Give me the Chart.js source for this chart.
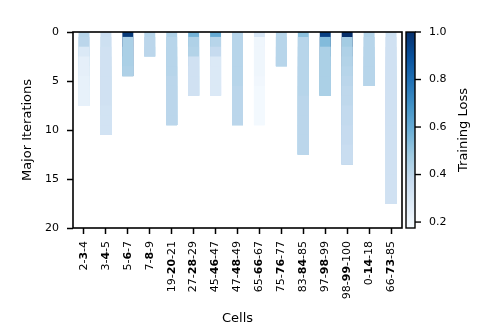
<!DOCTYPE html>
<html>
<head>
<title>Training loss per major iteration</title>
<script src="https://cdn.jsdelivr.net/npm/chart.js"></script>
<style>
  html, body { margin: 0; padding: 0; background: #fff; }
  #wrap { width: 488px; height: 326px; }
</style>
</head>
<body>
<div id="wrap"><canvas id="myChart"></canvas></div>
<script>
// cells on the x axis (middle number is drawn bold)
const cells = ['2-3-4', '3-4-5', '5-6-7', '7-8-9', '19-20-21', '27-28-29', '45-46-47', '47-48-49',
               '65-66-67', '75-76-77', '83-84-85', '97-98-99', '98-99-100', '0-14-18', '66-73-85'];

// training loss for each major iteration (0, 1, 2, ...) of every cell
const loss_2_3_4    = [0.42, 0.41, 0.29, 0.25, 0.25, 0.24, 0.24, 0.24];
const loss_3_4_5    = [0.36, 0.35, 0.34, 0.34, 0.34, 0.34, 0.34, 0.34, 0.33, 0.33, 0.33];
const loss_5_6_7    = [0.97, 0.45, 0.45, 0.45, 0.44];
const loss_7_8_9    = [0.42, 0.41, 0.41];
const loss_19_20_21 = [0.44, 0.42, 0.42, 0.42, 0.42, 0.41, 0.41, 0.41, 0.41, 0.41];
const loss_27_28_29 = [0.57, 0.44, 0.43, 0.34, 0.34, 0.34, 0.34];
const loss_45_46_47 = [0.60, 0.42, 0.38, 0.29, 0.29, 0.29, 0.29];
const loss_47_48_49 = [0.42, 0.42, 0.42, 0.42, 0.42, 0.42, 0.41, 0.41, 0.41, 0.41];
const loss_65_66_67 = [0.31, 0.21, 0.21, 0.21, 0.21, 0.20, 0.19, 0.19, 0.19, 0.19];
const loss_75_76_77 = [0.42, 0.42, 0.42, 0.42];
const loss_83_84_85 = [0.52, 0.42, 0.42, 0.42, 0.42, 0.42, 0.42, 0.41, 0.41, 0.41, 0.41, 0.41, 0.41];
const loss_97_98_99 = [0.95, 0.54, 0.45, 0.45, 0.45, 0.45, 0.45];
const loss_98_99_100 = [1.00, 0.47, 0.44, 0.43, 0.42, 0.41, 0.40, 0.40, 0.39, 0.39, 0.38, 0.38, 0.37, 0.37];
const loss_0_14_18  = [0.43, 0.42, 0.42, 0.42, 0.42, 0.42];
const loss_66_73_85 = [0.35, 0.34, 0.34, 0.34, 0.34, 0.34, 0.34, 0.34, 0.34, 0.34, 0.34, 0.34, 0.34, 0.34, 0.34, 0.34, 0.34, 0.34];

const losses = [loss_2_3_4, loss_3_4_5, loss_5_6_7, loss_7_8_9, loss_19_20_21, loss_27_28_29, loss_45_46_47,
                loss_47_48_49, loss_65_66_67, loss_75_76_77, loss_83_84_85, loss_97_98_99, loss_98_99_100,
                loss_0_14_18, loss_66_73_85];

// axis ticks
const iterTicks = [0, 5, 10, 15, 20];
const lossTicks = [0.2, 0.4, 0.6, 0.8, 1.0];
const lossMin = 0.175;
const lossMax = 1.0;

// matplotlib "Blues"
const bluesStops = ['#f7fbff', '#deebf7', '#c6dbef', '#9ecae1', '#6baed6', '#4292c6', '#2171b5', '#08519c', '#08306b'];
function hexRgb(h) {
    return [parseInt(h.substr(1, 2), 16), parseInt(h.substr(3, 2), 16), parseInt(h.substr(5, 2), 16)];
}
function blues(v) {
    let t = (v - lossMin) / (lossMax - lossMin);
    t = Math.max(0, Math.min(1, t));
    const p = t * 8;
    const i = Math.min(7, Math.floor(p));
    const f = p - i;
    const a = hexRgb(bluesStops[i]), b = hexRgb(bluesStops[i + 1]);
    const c = a.map((x, j) => Math.round(x + (b[j] - x) * f));
    return 'rgb(' + c.join(',') + ')';
}

// one dataset per iteration k; each bar runs from k-0.5 to the end of the cell's run,
// later iterations are drawn on top, so only [k-0.5, k+0.5] of each stays visible (no seams)
const maxLen = Math.max(...losses.map(a => a.length));
const datasets = [];
for (let k = 0; k < maxLen; k++) {
    datasets.push({
        label: 'iteration ' + k,
        data: losses.map(a => k < a.length ? [k - 0.5, a.length - 0.5] : null),
        backgroundColor: losses.map(a => k < a.length ? blues(a[k]) : 'rgba(0,0,0,0)'),
        borderWidth: 0,
        inflateAmount: 0,
        grouped: false,
        barPercentage: 0.5,
        categoryPercentage: 1.0,
        order: maxLen - k
    });
}

const FONT = '"DejaVu Sans", sans-serif';
const TICK_PX = 11;

// frame, bold-middle cell labels and the colour bar
const extras = {
    id: 'extras',
    afterDraw(chart) {
        const ctx = chart.ctx;
        const area = chart.chartArea;
        const xs = chart.scales.x;
        ctx.save();

        // frame round the plot
        ctx.strokeStyle = '#000';
        ctx.lineWidth = 1.6;
        ctx.strokeRect(area.left, area.top, area.right - area.left, area.bottom - area.top);

        // x tick labels
        ctx.fillStyle = '#000';
        ctx.textBaseline = 'middle';
        ctx.textAlign = 'left';
        const top = area.bottom + 6 + 7;
        cells.forEach((label, i) => {
            const p = label.split('-');
            const segs = [[p[0] + '-', false], [p[1], true], ['-' + p[2], false]];
            let total = 0;
            const w = segs.map(s => {
                ctx.font = (s[1] ? 'bold ' : '') + TICK_PX + 'px ' + FONT;
                const m = ctx.measureText(s[0]).width;
                total += m;
                return m;
            });
            const x = xs.getPixelForValue(i);
            ctx.save();
            ctx.translate(x, top);
            ctx.rotate(-Math.PI / 2);
            let pos = -total;
            segs.forEach((s, j) => {
                ctx.font = (s[1] ? 'bold ' : '') + TICK_PX + 'px ' + FONT;
                ctx.fillText(s[0], pos, 0);
                pos += w[j];
            });
            ctx.restore();
        });

        // colour bar
        const cbL = area.right + 4, cbR = cbL + 9;
        const cbT = area.top, cbB = area.bottom;
        const grad = ctx.createLinearGradient(0, cbB, 0, cbT);
        for (let s = 0; s <= 40; s++) {
            const v = lossMin + (lossMax - lossMin) * s / 40;
            grad.addColorStop(s / 40, blues(v));
        }
        ctx.fillStyle = grad;
        ctx.fillRect(cbL, cbT, cbR - cbL, cbB - cbT);
        ctx.lineWidth = 1.4;
        ctx.strokeStyle = '#000';
        ctx.strokeRect(cbL, cbT, cbR - cbL, cbB - cbT);

        ctx.font = TICK_PX + 'px ' + FONT;
        ctx.fillStyle = '#000';
        ctx.textAlign = 'left';
        ctx.textBaseline = 'middle';
        lossTicks.forEach(v => {
            const y = cbB - (v - lossMin) / (lossMax - lossMin) * (cbB - cbT);
            ctx.beginPath();
            ctx.moveTo(cbR, y);
            ctx.lineTo(cbR + 6, y);
            ctx.stroke();
            ctx.fillText(v.toFixed(1), cbR + 14, y);
        });

        ctx.save();
        ctx.translate(464, (cbT + cbB) / 2);
        ctx.rotate(-Math.PI / 2);
        ctx.textAlign = 'center';
        ctx.font = '13px ' + FONT;
        ctx.fillText('Training Loss', 0, 0);
        ctx.restore();

        ctx.restore();
    }
};

const tickGrid = { display: true, drawOnChartArea: false, tickLength: 6, tickWidth: 1.5, tickColor: '#000' };

new Chart(document.getElementById('myChart'), {
    type: 'bar',
    data: { labels: cells, datasets: datasets },
    options: {
        responsive: true,
        maintainAspectRatio: false,
        animation: false,
        layout: { padding: { left: 0, right: 86, top: 32, bottom: 0 } },
        plugins: { legend: { display: false }, tooltip: { enabled: false } },
        scales: {
            x: {
                type: 'category',
                offset: true,
                grid: Object.assign({ offset: false }, tickGrid),
                border: { display: false },
                ticks: { color: 'rgba(0,0,0,0)', autoSkip: false, minRotation: 90, maxRotation: 90, font: { size: TICK_PX, family: FONT } },
                title: { display: true, text: 'Cells', color: '#000', font: { size: 13, family: FONT }, padding: { top: 0, bottom: 0 } },
                afterFit: s => { s.height = 98; }
            },
            y: {
                type: 'linear',
                reverse: true,
                min: 0,
                max: 20,
                grid: tickGrid,
                border: { display: false },
                afterBuildTicks: s => { s.ticks = iterTicks.map(v => ({ value: v })); },
                ticks: { color: '#000', padding: 8, font: { size: TICK_PX, family: FONT } },
                title: { display: true, text: 'Major Iterations', color: '#000', font: { size: 13, family: FONT }, padding: { top: 20, bottom: 0 } },
                afterFit: s => { s.width = 73; }
            }
        }
    },
    plugins: [extras]
});
</script>
</body>
</html>
